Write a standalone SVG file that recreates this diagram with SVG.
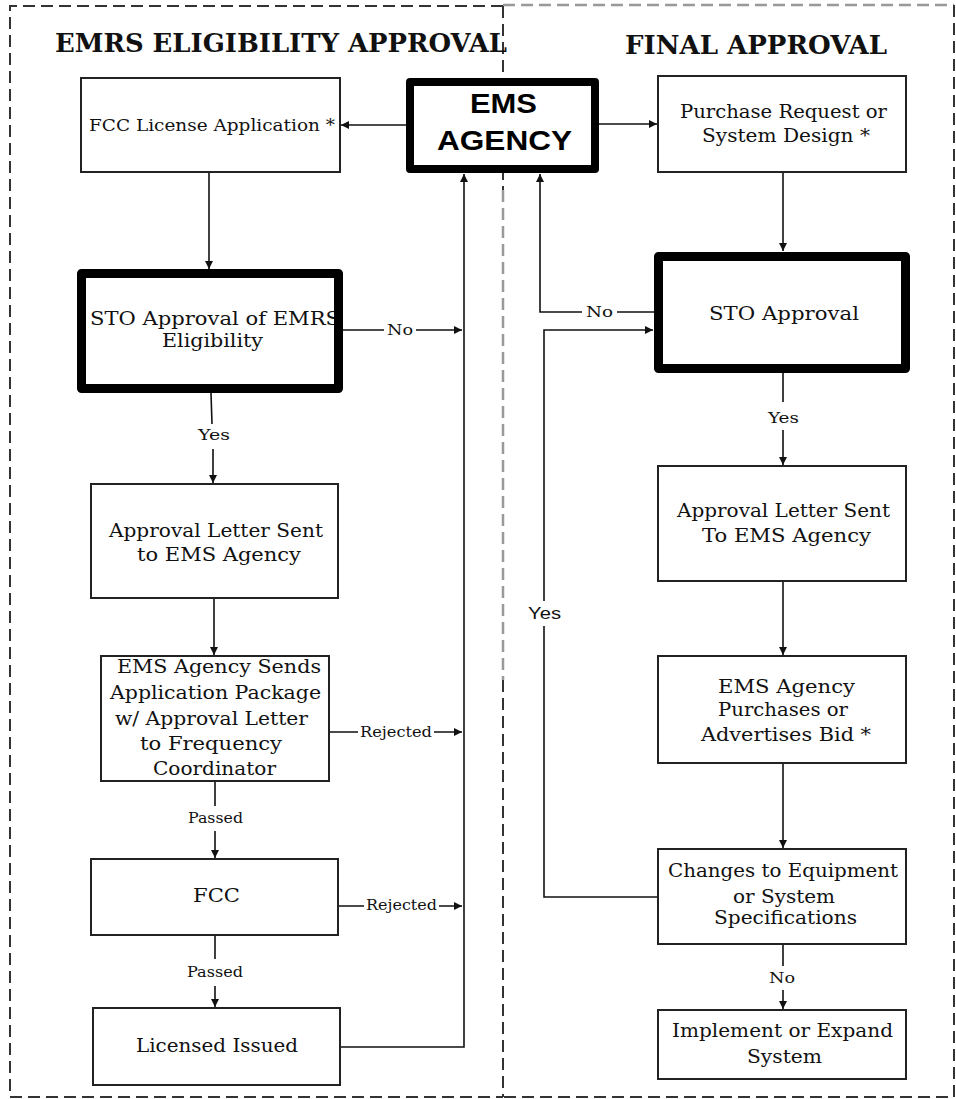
<svg xmlns="http://www.w3.org/2000/svg" width="956" height="1099" viewBox="0 0 956 1099">
<defs>
<marker id="ah" viewBox="0 0 10 10" refX="10" refY="5" markerWidth="8" markerHeight="8" markerUnits="userSpaceOnUse" orient="auto"><path d="M0,0 L10,5 L0,10 z" fill="#111"/></marker>
<style>
.box{fill:#fff;stroke:#222;stroke-width:2}
.thick{fill:none;stroke:#000;stroke-width:9;stroke-linejoin:round}
.fill{fill:#fff;stroke:none}
.t{font-family:"DejaVu Serif","Liberation Serif",serif;font-size:18.5px;fill:#111;text-anchor:middle}
.lb{font-family:"DejaVu Serif","Liberation Serif",serif;font-size:15px;fill:#111;text-anchor:middle}
.ttl{font-family:"DejaVu Serif","Liberation Serif",serif;font-size:26px;font-weight:bold;fill:#111;text-anchor:middle}
.ems{font-family:"Liberation Sans",Arial,sans-serif;font-size:28px;font-weight:bold;fill:#000;text-anchor:middle}
.sans{font-family:"Liberation Sans",Arial,sans-serif;font-size:16px;fill:#111;text-anchor:middle}
.c{fill:none;stroke:#111;stroke-width:1.6}
.dk{fill:none;stroke:#333;stroke-width:2;stroke-dasharray:12 6}
.gr{fill:none;stroke:#999;stroke-width:2.5;stroke-dasharray:12 6}
</style>
</defs>

<g id="frames">
<path class="gr" d="M503,5 L954,5"/>
<path class="dk" d="M954,5 L954,1097 L503,1097"/>
<path class="dk" d="M503,6 L10,6 L10,1097 L503,1097"/>
<path class="dk" d="M503,6 L503,190"/>
<path class="gr" d="M503,190 L503,680"/>
<path class="dk" d="M503,680 L503,1097"/>
</g>

<g id="titles">
<text class="ttl" x="281" y="52" textLength="452" lengthAdjust="spacingAndGlyphs">EMRS ELIGIBILITY APPROVAL</text>
<text class="ttl" x="756" y="54" textLength="262" lengthAdjust="spacingAndGlyphs">FINAL APPROVAL</text>
</g>

<g id="connectors">
<path class="c" d="M406,125 L341,125" marker-end="url(#ah)"/>
<path class="c" d="M599,124 L657,124" marker-end="url(#ah)"/>
<path class="c" d="M209,172 L209,269" marker-end="url(#ah)"/>
<path class="c" d="M343,330 L384,330 M416,330 L462,330" marker-end="url(#ah)"/>
<path class="c" d="M340,1047 L464,1047 L464,174" marker-end="url(#ah)"/>
<path class="c" d="M211,393 L212,424 M213,449 L213,483" marker-end="url(#ah)"/>
<path class="c" d="M214,598 L214,655" marker-end="url(#ah)"/>
<path class="c" d="M329,732 L358,732 M434,732 L462,732" marker-end="url(#ah)"/>
<path class="c" d="M215,781 L215,806 M215,831 L215,858" marker-end="url(#ah)"/>
<path class="c" d="M338,906 L364,906 M439,906 L462,906" marker-end="url(#ah)"/>
<path class="c" d="M215,935 L215,959 M215,986 L215,1007" marker-end="url(#ah)"/>
<path class="c" d="M783,172 L783,251" marker-end="url(#ah)"/>
<path class="c" d="M654,312 L617,312 M582,312 L540,312 L540,174" marker-end="url(#ah)"/>
<path class="c" d="M658,897 L544,897 L544,626 M544,601 L544,330 L653,330" marker-end="url(#ah)"/>
<path class="c" d="M783,373 L783,402 M783,430 L783,465" marker-end="url(#ah)"/>
<path class="c" d="M783,581 L783,655" marker-end="url(#ah)"/>
<path class="c" d="M783,763 L783,848" marker-end="url(#ah)"/>
<path class="c" d="M783,944 L783,966 M783,990 L783,1009" marker-end="url(#ah)"/>
</g>

<g id="edge-labels">
<text class="lb" x="400" y="335" textLength="26" lengthAdjust="spacingAndGlyphs">No</text>
<text class="lb" x="214" y="440" textLength="32" lengthAdjust="spacingAndGlyphs">Yes</text>
<text class="lb" x="396" y="737" textLength="72" lengthAdjust="spacingAndGlyphs">Rejected</text>
<text class="lb" x="215.5" y="823" textLength="55" lengthAdjust="spacingAndGlyphs">Passed</text>
<text class="lb" x="401.5" y="910" textLength="71" lengthAdjust="spacingAndGlyphs">Rejected</text>
<text class="lb" x="215" y="977" textLength="56" lengthAdjust="spacingAndGlyphs">Passed</text>
<text class="lb" x="599.5" y="317" textLength="27" lengthAdjust="spacingAndGlyphs">No</text>
<text class="lb" x="783.5" y="423" textLength="31" lengthAdjust="spacingAndGlyphs">Yes</text>
<text class="sans" x="544.5" y="619" textLength="33" lengthAdjust="spacingAndGlyphs">Yes</text>
<text class="lb" x="782" y="983" textLength="26" lengthAdjust="spacingAndGlyphs">No</text>
</g>

<g id="ems-agency">
<rect class="fill" x="410" y="82" width="185" height="87"/>
<rect class="thick" x="410" y="82" width="185" height="87" style="stroke-width:8"/>
<text class="ems" x="503.5" y="113" textLength="67" lengthAdjust="spacingAndGlyphs">EMS</text>
<text class="ems" x="504.5" y="150" textLength="135" lengthAdjust="spacingAndGlyphs">AGENCY</text>
</g>

<g id="fcc-license-application">
<rect class="box" x="81" y="78" width="259" height="94"/>
<text class="t" x="212" y="131" style="font-size:16.5px" textLength="246" lengthAdjust="spacingAndGlyphs">FCC License Application *</text>
</g>

<g id="sto-emrs">
<rect class="fill" x="81.5" y="273.5" width="257" height="115"/>
<text class="t" x="215" y="325" textLength="250" lengthAdjust="spacingAndGlyphs">STO Approval of EMRS</text>
<text class="t" x="212.5" y="347" textLength="101" lengthAdjust="spacingAndGlyphs">Eligibility</text>
<rect class="thick" x="81.5" y="273.5" width="257" height="115"/>
</g>

<g id="approval-letter-left">
<rect class="box" x="91" y="484" width="247" height="114"/>
<text class="t" x="216" y="537" textLength="214" lengthAdjust="spacingAndGlyphs">Approval Letter Sent</text>
<text class="t" x="219" y="561" textLength="164" lengthAdjust="spacingAndGlyphs">to EMS Agency</text>
</g>

<g id="ems-sends-package">
<rect class="box" x="101" y="656" width="228" height="125"/>
<text class="t" x="219" y="673" textLength="204" lengthAdjust="spacingAndGlyphs">EMS Agency Sends</text>
<text class="t" x="215.5" y="699" textLength="211" lengthAdjust="spacingAndGlyphs">Application Package</text>
<text class="t" x="211.5" y="725" textLength="193" lengthAdjust="spacingAndGlyphs">w/ Approval Letter</text>
<text class="t" x="211" y="750" textLength="142" lengthAdjust="spacingAndGlyphs">to Frequency</text>
<text class="t" x="214.5" y="775" textLength="123" lengthAdjust="spacingAndGlyphs">Coordinator</text>
</g>

<g id="fcc">
<rect class="box" x="91" y="859" width="247" height="76"/>
<text class="t" x="216.5" y="902" textLength="47" lengthAdjust="spacingAndGlyphs">FCC</text>
</g>

<g id="licensed-issued">
<rect class="box" x="93" y="1008" width="247" height="77"/>
<text class="t" x="217" y="1052" textLength="162" lengthAdjust="spacingAndGlyphs">Licensed Issued</text>
</g>

<g id="purchase-request">
<rect class="box" x="658" y="76" width="248" height="96"/>
<text class="t" x="783.5" y="118" textLength="207" lengthAdjust="spacingAndGlyphs">Purchase Request or</text>
<text class="t" x="786" y="142" textLength="168" lengthAdjust="spacingAndGlyphs">System Design *</text>
</g>

<g id="sto-approval">
<rect class="fill" x="658.5" y="256.5" width="247" height="112"/>
<rect class="thick" x="658.5" y="256.5" width="247" height="112"/>
<text class="t" x="784" y="320" textLength="150" lengthAdjust="spacingAndGlyphs">STO Approval</text>
</g>

<g id="approval-letter-right">
<rect class="box" x="658" y="466" width="248" height="115"/>
<text class="t" x="783.5" y="517" textLength="213" lengthAdjust="spacingAndGlyphs">Approval Letter Sent</text>
<text class="t" x="786.5" y="542" textLength="169" lengthAdjust="spacingAndGlyphs">To EMS Agency</text>
</g>

<g id="ems-purchases">
<rect class="box" x="658" y="656" width="248" height="107"/>
<text class="t" x="786.5" y="693" textLength="137" lengthAdjust="spacingAndGlyphs">EMS Agency</text>
<text class="t" x="783" y="716" textLength="130" lengthAdjust="spacingAndGlyphs">Purchases or</text>
<text class="t" x="786" y="741" textLength="170" lengthAdjust="spacingAndGlyphs">Advertises Bid *</text>
</g>

<g id="changes">
<rect class="box" x="658" y="849" width="248" height="95"/>
<text class="t" x="783" y="877" textLength="230" lengthAdjust="spacingAndGlyphs">Changes to Equipment</text>
<text class="t" x="784" y="903" textLength="102" lengthAdjust="spacingAndGlyphs">or System</text>
<text class="t" x="785.5" y="924" textLength="143" lengthAdjust="spacingAndGlyphs">Specifications</text>
</g>

<g id="implement">
<rect class="box" x="658" y="1010" width="248" height="69"/>
<text class="t" x="782.5" y="1037" textLength="221" lengthAdjust="spacingAndGlyphs">Implement or Expand</text>
<text class="t" x="784.5" y="1063" textLength="75" lengthAdjust="spacingAndGlyphs">System</text>
</g>
</svg>
